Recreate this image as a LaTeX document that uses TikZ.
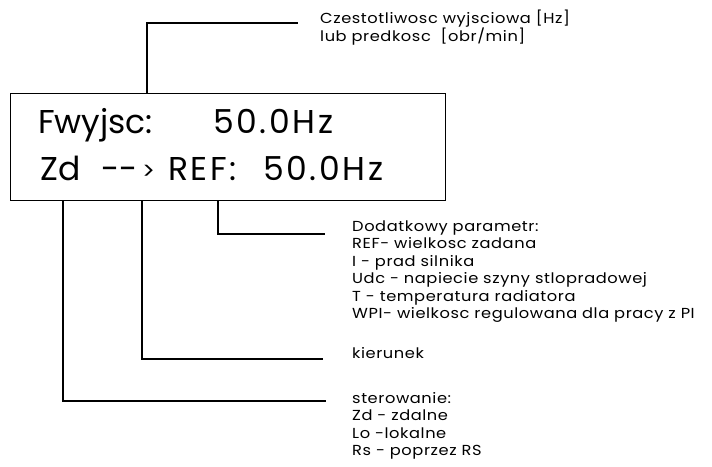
\documentclass[tikz,border=0pt]{standalone}
\usepackage{fontspec}
\setmainfont{Poppins}
\newfontfamily\notefont{Poppins}[FakeStretch=1.12,LetterSpace=4]
\newfontfamily\valfont{Poppins}[LetterSpace=8]
\usetikzlibrary{positioning}
\newcommand{\noterows}[1]{\begin{tabular}[t]{@{}l@{}}#1\end{tabular}}
\tikzset{lcdbox/.style={
    rectangle,
    draw,
    line width=0.9pt,
    inner sep=0pt,
    minimum width=435pt,
    minimum height=107pt
  },
  lcdtext/.style={font=\fontsize{33}{40}\selectfont,anchor=base west,inner sep=0pt},
  lcdval/.style={lcdtext,font=\valfont\fontsize{33}{40}\selectfont},
  note/.style={font=\notefont\fontsize{14.5}{17.5}\selectfont,anchor=base west,inner sep=0pt},
  lead/.style={line width=1.1pt},
}
\begin{document}
\begin{tikzpicture}[x=1pt,y=-1pt]
  \useasboundingbox (0,0) rectangle (712,466);
  % display
  \node [lcdbox,anchor=north west] (lcd) at (10,93) {};
  \node [lcdtext] (fw) at (38,133) {Fwyjsc:};
  \node [lcdval] (fval) at (213,133) {50.0Hz};
  \node [lcdtext] (zd) at (40,180) {Zd};
  \node [lcdtext] (dash) at (101,180) {-{}-};
  \node [lcdtext,font=\fontsize{24}{30}\selectfont] (gt) at (142,179) {>};
  \node [lcdval] (ref) at (168,180) {REF:};
  \node [lcdval] (rval) at (263,180) {50.0Hz};
  % descriptions
  \node [note] (freq) at (320,23) {\noterows{Czestotliwosc wyjsciowa [Hz]\\lub predkosc~~[obr/min]}};
  \node [note] (param) at (352,231) {\noterows{Dodatkowy parametr:\\REF- wielkosc zadana\\I - prad silnika\\Udc - napiecie szyny stlopradowej\\T - temperatura radiatora\\WPI- wielkosc regulowana dla pracy z PI}};
  \node [note] (kier) at (352,358) {kierunek};
  \node [note] (ster) at (352,403) {\noterows{sterowanie:\\Zd - zdalne\\Lo -lokalne\\Rs - poprzez RS}};
  % leaders
  \coordinate (pfw) at (lcd.north -| 147,0);
  \coordinate (pref) at (lcd.south -| 218,0);
  \coordinate (pdir) at (lcd.south -| gt.west);
  \coordinate (pzd) at (lcd.south -| 63,0);
  \draw[lead] (pfw) |- ([xshift=-22pt]freq.base west);
  \draw[lead] (pref) |- ([xshift=-27pt,yshift=-3pt]param.base west);
  \draw[lead] (pdir) |- ([xshift=-29pt,yshift=-1pt]kier.base west);
  \draw[lead] (pzd) |- ([xshift=-26pt,yshift=2pt]ster.base west);
\end{tikzpicture}
\end{document}
